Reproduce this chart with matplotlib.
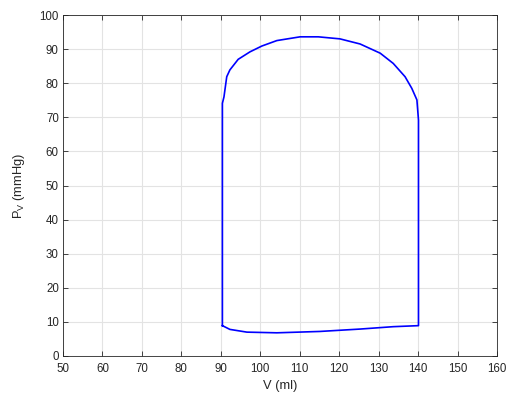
import matplotlib
matplotlib.use('Agg')
import matplotlib.pyplot as plt

plt.rcParams['font.family'] = ['Liberation Sans', 'DejaVu Sans']
plt.rcParams['mathtext.fontset'] = 'custom'
plt.rcParams['mathtext.rm'] = 'Liberation Sans'
plt.rcParams['mathtext.it'] = 'Liberation Sans'

# pressure-volume loop, going round clockwise
volume = [90.4, 90.4, 90.8, 91.5, 92.3, 94.4, 97.4, 100.4, 104.2, 110.1, 114.7,
          120.2, 125.3, 130.4, 133.7, 136.7, 138.4, 139.7, 140.1, 140.1,
          133.7, 125.3, 115.1, 104.2, 96.6, 92.3, 90.4]
pressure = [8.9, 74.1, 76.0, 81.9, 83.9, 87.0, 89.2, 90.9, 92.5, 93.6, 93.6,
            93.0, 91.5, 88.8, 85.8, 81.9, 78.5, 75.1, 69.2, 8.9,
            8.6, 7.9, 7.2, 6.8, 7.0, 7.8, 8.9]

xticks = list(range(50, 161, 10))
yticks = list(range(0, 101, 10))

fig = plt.figure(figsize=(5.08, 4.00), dpi=100)
ax = fig.add_axes([63/508, 1 - 356/400, 434/508, 341/400])

ax.plot(volume, pressure, color='#0000ff', linewidth=1.2)

ax.set_xlim(50, 160)
ax.set_ylim(0, 100)
ax.set_xticks(xticks)
ax.set_yticks(yticks)
ax.grid(True, color='#e3e3e3', linewidth=0.8)
ax.set_axisbelow(True)
ax.tick_params(direction='in', length=3.5, width=0.6, top=True, right=True,
               labelsize=8.3, colors='#262626')
ax.tick_params(axis='x', pad=5)
ax.tick_params(axis='y', pad=3)
for s in ax.spines.values():
    s.set_color('#262626')
    s.set_linewidth(0.6)

ax.set_xlabel('V (ml)', fontsize=9.3, color='#262626', labelpad=4)
ax.set_ylabel(r'P$_\mathrm{V}$ (mmHg)', fontsize=9.3, color='#262626', labelpad=9)

fig.savefig('out.png', dpi=100)
